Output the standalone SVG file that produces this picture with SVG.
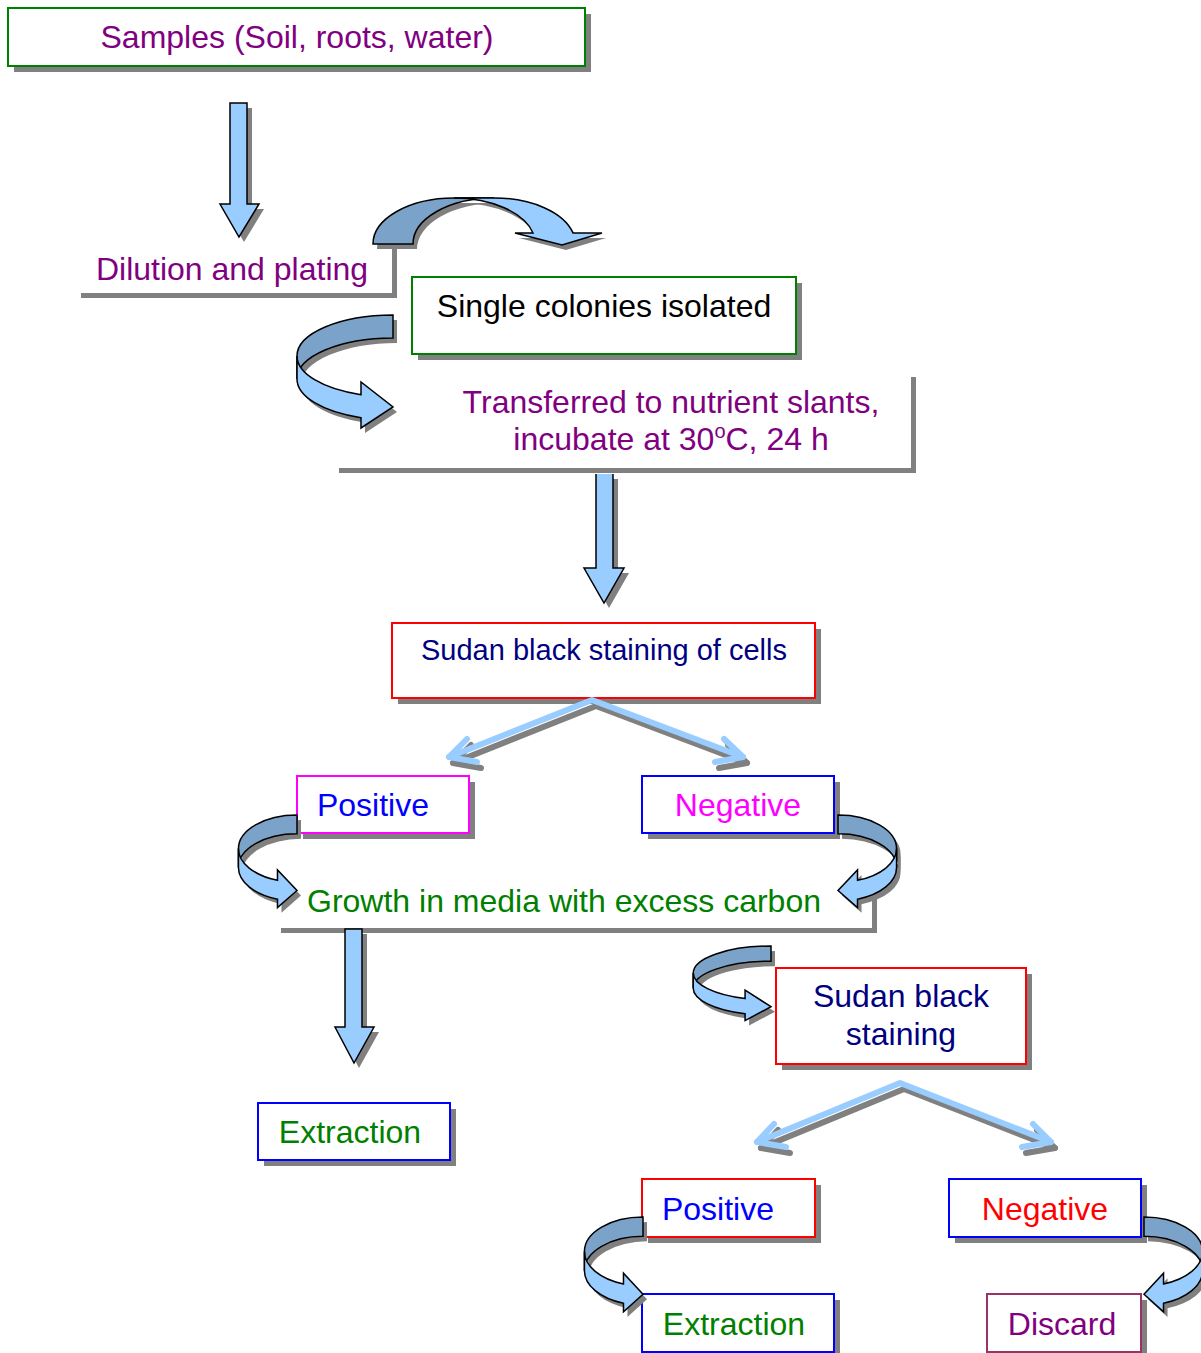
<svg xmlns="http://www.w3.org/2000/svg" xmlns:xlink="http://www.w3.org/1999/xlink" width="1201" height="1353" viewBox="0 0 1201 1353">
<style>
text{font-family:"Liberation Sans",Arial,sans-serif;font-size:32px;text-anchor:middle}
.box{fill:#fff;stroke-width:2}
.plain{fill:#fff;stroke:none}
.sh{fill:#808080;stroke:none}
.sa{fill:#99CCFF;stroke:#000;stroke-width:1.5;stroke-linejoin:miter}
.dk{fill:#7BA3CA;stroke:#000;stroke-width:1.5}
.lt{fill:#99CCFF;stroke:#000;stroke-width:1.5}
.v{fill:none;stroke:#99CCFF;stroke-width:6;stroke-linecap:round;stroke-linejoin:round}
.vs{fill:none;stroke:#808080;stroke-width:6;stroke-linecap:round;stroke-linejoin:round}
.purple{fill:#800080}.navy{fill:#000080}.blue{fill:#0000FF}.mag{fill:#FF00FF}.green{fill:#008000}.red{fill:#FF0000}.black{fill:#000}
</style>
<defs>
<path id="crD" vector-effect="non-scaling-stroke" d="M0,0 A96,41 0 0 0 -96,41 L-96,64 A96,41 0 0 1 0,23 Z"/>
<path id="crL" vector-effect="non-scaling-stroke" d="M-96,41 A96,41 0 0 0 -32,79.7 L-32,67 L0,92 L-32,113 L-32,102.7 A96,41 0 0 1 -96,64 Z"/>
</defs>

<g id="n-samples">
<rect class="sh" x="14" y="14" width="577" height="58"/>
<rect class="box" x="8" y="8" width="577" height="58" stroke="#008000"/>
<text class="purple" x="297" y="48">Samples (Soil, roots, water)</text>
</g>

<g id="n-dilution">
<rect class="sh" x="81" y="249" width="316" height="49"/>
<rect class="plain" x="76" y="244" width="316" height="49"/>
<text class="purple" x="232" y="280">Dilution and plating</text>
</g>

<g id="n-single">
<rect class="sh" x="418" y="283" width="384" height="77"/>
<rect class="box" x="412" y="277" width="384" height="77" stroke="#008000"/>
<text class="black" x="604" y="317">Single colonies isolated</text>
</g>

<g id="n-transfer">
<rect class="sh" x="339" y="377" width="577" height="96"/>
<rect class="plain" x="334" y="372" width="577" height="96"/>
<text class="purple" x="671" y="413">Transferred to nutrient slants,</text>
<text class="purple" x="671" y="450">incubate at 30<tspan font-size="20" dy="-12">o</tspan><tspan dy="12">C, 24 h</tspan></text>
</g>

<g id="n-sudan1">
<rect class="sh" x="398" y="629" width="423" height="75"/>
<rect class="box" x="392" y="623" width="423" height="75" stroke="#FF0000"/>
<text class="navy" x="604" y="660" style="font-size:29px">Sudan black staining of cells</text>
</g>

<g id="n-positive1">
<rect class="sh" x="303" y="782" width="172" height="57"/>
<rect class="box" x="297" y="776" width="172" height="57" stroke="#FF00FF"/>
<text class="blue" x="373" y="816">Positive</text>
</g>

<g id="n-negative1">
<rect class="sh" x="648" y="782" width="192" height="57"/>
<rect class="box" x="642" y="776" width="192" height="57" stroke="#0000FF"/>
<text class="mag" x="738" y="816">Negative</text>
</g>

<g id="n-growth">
<rect class="sh" x="281" y="896" width="596" height="37"/>
<rect class="plain" x="276" y="891" width="596" height="37"/>
<text class="green" x="564" y="912">Growth in media with excess carbon</text>
</g>

<g id="n-extraction1">
<rect class="sh" x="264" y="1109" width="192" height="57"/>
<rect class="box" x="258" y="1103" width="192" height="57" stroke="#0000FF"/>
<text class="green" x="350" y="1143">Extraction</text>
</g>

<g id="n-sudan2">
<rect class="sh" x="782" y="974" width="250" height="96"/>
<rect class="box" x="776" y="968" width="250" height="96" stroke="#FF0000"/>
<text class="navy" x="901" y="1007">Sudan black</text>
<text class="navy" x="901" y="1045">staining</text>
</g>

<g id="n-positive2">
<rect class="sh" x="648" y="1185" width="173" height="58"/>
<rect class="box" x="642" y="1179" width="173" height="58" stroke="#FF0000"/>
<text class="blue" x="718" y="1220">Positive</text>
</g>

<g id="n-negative2">
<rect class="sh" x="955" y="1185" width="192" height="58"/>
<rect class="box" x="949" y="1179" width="192" height="58" stroke="#0000FF"/>
<text class="red" x="1045" y="1220">Negative</text>
</g>

<g id="n-extraction2">
<rect class="sh" x="648" y="1300" width="192" height="58"/>
<rect class="box" x="642" y="1294" width="192" height="58" stroke="#0000FF"/>
<text class="green" x="734" y="1335">Extraction</text>
</g>

<g id="n-discard">
<rect class="sh" x="993" y="1300" width="154" height="58"/>
<rect class="box" x="987" y="1294" width="154" height="58" stroke="#993366"/>
<text class="purple" x="1062" y="1335">Discard</text>
</g>

<g id="connectors">
<!-- straight arrows -->
<path class="sh" transform="translate(5,5)" d="M230,103 L247,103 L247,204 L259,204 L239,237 L220,204 L230,204 Z"/>
<path class="sa" d="M230,103 L247,103 L247,204 L259,204 L239,237 L220,204 L230,204 Z"/>
<path class="sh" transform="translate(5,5)" d="M596,474 L596,568 L584,568 L604,603 L624,568 L613,568 L613,474 Z"/>
<path class="sa" d="M596,474 L596,568 L584,568 L604,603 L624,568 L613,568 L613,474"/>
<path class="sh" transform="translate(5,5)" d="M345,929 L362,929 L362,1027 L374,1027 L354,1063 L335,1027 L345,1027 Z"/>
<path class="sa" d="M345,929 L362,929 L362,1027 L374,1027 L354,1063 L335,1027 L345,1027 Z"/>

<!-- curved down arrow (dilution -> single colonies) -->
<g transform="translate(4,5)" class="sh">
<path d="M373,244 A81,46 0 0 1 454,198 L494,198 A81,46 0 0 0 413,244 Z"/>
<path d="M454,198 A81,46 0 0 1 533,233 L515,233 L562,245 L602,233 L573,233 A81,46 0 0 0 494,198 Z"/>
</g>
<path class="dk" d="M373,244 A81,46 0 0 1 454,198 L494,198 A81,46 0 0 0 413,244 Z"/>
<path class="lt" d="M454,198 A81,46 0 0 1 533,233 L515,233 L562,245 L602,233 L573,233 A81,46 0 0 0 494,198 Z"/>

<!-- curved right arrows -->
<g transform="translate(393,315)">
<g transform="translate(4,5)" class="sh"><use xlink:href="#crD"/><use xlink:href="#crL"/></g>
<use xlink:href="#crD" class="dk"/><use xlink:href="#crL" class="lt"/>
</g>
<g transform="translate(297,815)">
<g transform="translate(4,5) scale(0.61,0.82)" class="sh"><use xlink:href="#crD"/><use xlink:href="#crL"/></g>
<g transform="scale(0.61,0.82)"><use xlink:href="#crD" class="dk"/><use xlink:href="#crL" class="lt"/></g>
</g>
<g transform="translate(838,815)">
<g transform="translate(4,5) scale(-0.61,0.82)" class="sh"><use xlink:href="#crD"/><use xlink:href="#crL"/></g>
<g transform="scale(-0.61,0.82)"><use xlink:href="#crD" class="dk"/><use xlink:href="#crL" class="lt"/></g>
</g>
<g transform="translate(771,946)">
<g transform="translate(4,5) scale(0.81,0.66)" class="sh"><use xlink:href="#crD"/><use xlink:href="#crL"/></g>
<g transform="scale(0.81,0.66)"><use xlink:href="#crD" class="dk"/><use xlink:href="#crL" class="lt"/></g>
</g>
<g transform="translate(643,1217)">
<g transform="translate(4,5) scale(0.61,0.84)" class="sh"><use xlink:href="#crD"/><use xlink:href="#crL"/></g>
<g transform="scale(0.61,0.84)"><use xlink:href="#crD" class="dk"/><use xlink:href="#crL" class="lt"/></g>
</g>
<g transform="translate(1144,1217)">
<g transform="translate(4,5) scale(-0.61,0.84)" class="sh"><use xlink:href="#crD"/><use xlink:href="#crL"/></g>
<g transform="scale(-0.61,0.84)"><use xlink:href="#crD" class="dk"/><use xlink:href="#crL" class="lt"/></g>
</g>

<!-- split arrows -->
<g transform="translate(4,6)">
<polyline class="vs" points="449,757 592,700 743,757"/>
<polyline class="vs" points="467,739 449,757 477,762"/>
<polyline class="vs" points="724,739 743,757 715,762"/>
<polyline class="vs" points="757,1142 900,1083 1051,1142"/>
<polyline class="vs" points="774,1124 757,1142 786,1147"/>
<polyline class="vs" points="1033,1124 1051,1142 1022,1147"/>
</g>
<polyline class="v" points="449,757 592,700 743,757"/>
<polyline class="v" points="467,739 449,757 477,762"/>
<polyline class="v" points="724,739 743,757 715,762"/>
<polyline class="v" points="757,1142 900,1083 1051,1142"/>
<polyline class="v" points="774,1124 757,1142 786,1147"/>
<polyline class="v" points="1033,1124 1051,1142 1022,1147"/>
</g>
</svg>
